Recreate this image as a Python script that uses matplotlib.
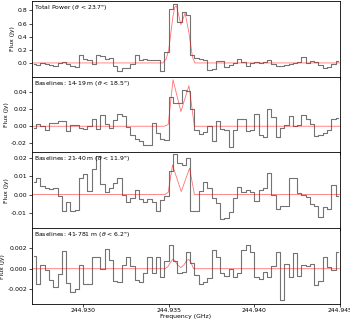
import matplotlib
matplotlib.use("Agg")
import matplotlib.pyplot as plt
import numpy as np

plt.rcParams['font.size'] = 4.4
plt.rcParams['axes.linewidth'] = 0.6
plt.rcParams['xtick.major.size'] = 2
plt.rcParams['ytick.major.size'] = 2
plt.rcParams['xtick.major.width'] = 0.5
plt.rcParams['ytick.major.width'] = 0.5
plt.rcParams['xtick.major.pad'] = 1.2
plt.rcParams['ytick.major.pad'] = 1.5

# channel grid (GHz)
f_start = 244.927
chan_width = 0.00025
n_chan = 72
freq = f_start + chan_width * (np.arange(n_chan) + 0.5)

titles = [r'Total Power ($\theta$ < 23.7")',
          r'Baselines: 14-19 m ($\theta$ < 18.5")',
          r'Baselines: 21-40 m ($\theta$ < 11.9")',
          r'Baselines: 41-781 m ($\theta$ < 6.2")']

flux_tp = [-0.015, -0.025, -0.005, -0.02, -0.03, -0.04, 0.0, 0.01, -0.015, -0.05,
           -0.06, 0.12, 0.06, 0.05, -0.015, 0.12, 0.1, 0.06, 0.07, -0.04,
           -0.125, -0.08, -0.08, -0.015, 0.12, 0.05, 0.06, 0.05, 0.05, 0.04,
           -0.12, 0.17, 0.82, 0.9, 0.62, 0.77, 0.73, 0.12, 0.08, 0.06,
           0.05, -0.1, -0.09, 0.03, 0.03, -0.065, -0.03, 0.0, 0.06, 0.01,
           -0.04, 0.0, 0.02, 0.0, 0.01, 0.045, -0.01, -0.05, -0.04, -0.03,
           -0.015, 0.0, 0.02, 0.085, 0.0, 0.035, 0.01, -0.03, -0.07, -0.065,
           -0.01, 0.035]

flux_14_19 = [-0.002, 0.003, 0.0, -0.005, 0.004, 0.004, 0.006, 0.006, -0.006, 0.001,
              0.001, -0.002, -0.003, 0.0, 0.008, -0.003, 0.013, 0.003, -0.002, 0.007,
              0.015, 0.012, -0.001, -0.01, -0.015, -0.018, -0.022, -0.022, 0.004, -0.008,
              -0.015, -0.016, 0.034, 0.028, 0.028, 0.043, 0.042, 0.02, -0.005, -0.009,
              -0.007, 0.0, -0.018, 0.006, -0.003, -0.004, -0.024, -0.005, 0.009, 0.009,
              -0.006, -0.005, 0.014, -0.01, -0.013, 0.02, 0.011, -0.013, -0.002, 0.001,
              0.012, 0.0, 0.001, 0.013, 0.008, 0.003, -0.012, -0.01, -0.008, -0.004,
              0.008, 0.01]

flux_21_40 = [0.0068, 0.009, 0.0046, 0.0035, 0.003, 0.0035, -0.001, -0.0088, -0.004, -0.0088,
              -0.0082, 0.009, 0.011, 0.002, 0.0137, 0.021, 0.0059, 0.0016, 0.0035, 0.006,
              0.009, -0.0005, -0.004, -0.002, 0.0027, -0.0024, -0.004, -0.0027, -0.0042, -0.009,
              -0.003, -0.001, 0.013, 0.0218, 0.017, 0.016, 0.02, -0.0088, -0.0088, 0.002,
              0.0068, 0.0035, -0.002, -0.0046, -0.0134, -0.0125, -0.0097, -0.002, 0.004, 0.0013,
              0.0027, 0.0013, -0.0033, 0.0027, 0.0035, 0.0114, -0.0005, -0.0079, -0.0064, -0.006,
              0.009, 0.009, 0.001, -0.0002, -0.0015, -0.005, -0.006, -0.012, -0.007, -0.0079,
              0.0053, -0.001]

flux_41_781 = [0.00124, -0.00146, 0.00035, -0.00013, -0.00108, -0.0018, -0.0005, 0.0017, -0.0014, -0.0022,
               -0.002, 0.00035, -0.00146, -0.0015, 0.0011, 0.00114, 0.0, 0.0019, 0.0008, -0.0012,
               -0.0013, 0.00035, 0.0011, 0.00025, -0.0011, -0.0013, -0.00044, 0.00114, -0.00044, 0.00114,
               -0.00076, 0.00076, 0.00225, 0.00076, -0.00044, -0.0003, 0.0016, 0.00057, -0.0006, -0.00146,
               -0.0013, -0.0009, 0.0018, 0.00114, -0.00044, -0.0007, 0.0, -0.0008, -0.00044, 0.0018,
               0.00225, 0.0016, -0.0008, -0.001, -0.0003, -0.00076, 0.00025, 0.0016, -0.003, 0.0005,
               -0.00076, 0.0015, -0.0007, 0.00035, 0.00025, 0.0005, -0.00155, -0.0012, 0.00114, 0.0002,
               -0.00013, 0.0016]

# line model
model_f_tp = [244.927, 244.93465, 244.93485, 244.93500, 244.93512, 244.93524, 244.93535,
              244.93545, 244.93571, 244.93596, 244.93618, 244.93639, 244.93653, 244.945]
model_tp = [0.0, 0.0, 0.06, 0.2, 0.45, 0.7, 0.85, 0.87, 0.585, 0.76, 0.46, 0.085, 0.0, 0.0]

model_f_14_19 = [244.927, 244.93475, 244.93497, 244.93525, 244.93571, 244.93618, 244.93650, 244.945]
model_14_19 = [0.0, 0.0, 0.002, 0.055, 0.0173, 0.048, 0.0, 0.0]

model_f_21_40 = [244.927, 244.93478, 244.93497, 244.93522, 244.93573, 244.93622, 244.93650, 244.945]
model_21_40 = [0.0, 0.0, 0.0012, 0.016, 0.0016, 0.0143, 0.0, 0.0]

model_f_41_781 = [244.927, 244.93478, 244.93495, 244.93510, 244.93522, 244.93535, 244.93550,
                  244.93571, 244.93590, 244.93605, 244.93618, 244.93630, 244.93645, 244.945]
model_41_781 = [0.0, 0.0, 0.0002, 0.0006, 0.0009, 0.0008, 0.0004, 0.0001, 0.0004, 0.0008,
                0.0009, 0.0006, 0.0, 0.0]

fluxes = [flux_tp, flux_14_19, flux_21_40, flux_41_781]
model_f = [model_f_tp, model_f_14_19, model_f_21_40, model_f_41_781]
models = [model_tp, model_14_19, model_21_40, model_41_781]
ylims = [(-0.21, 0.945), (-0.031, 0.0585), (-0.0183, 0.0228), (-0.0034, 0.0039)]
yticks = [[0.0, 0.2, 0.4, 0.6, 0.8], [-0.02, 0.0, 0.02, 0.04],
          [-0.01, 0.0, 0.01, 0.02], [-0.002, 0.0, 0.002]]
yfmt = ['%.1f', '%.2f', '%.2f', '%.3f']

fig, axes = plt.subplots(4, 1, sharex=True, figsize=(3.5, 3.21), dpi=100)
fig.subplots_adjust(left=0.091, right=0.971, top=0.997, bottom=0.053, hspace=0)

for i, ax in enumerate(axes):
    ax.step(freq, fluxes[i], where='mid', color='k', alpha=0.55, lw=0.8)
    ax.plot(model_f[i], models[i], color='r', alpha=0.55, lw=0.6)
    ax.set_ylim(*ylims[i])
    ax.set_yticks(yticks[i])
    ax.yaxis.set_major_formatter(matplotlib.ticker.FormatStrFormatter(yfmt[i]))
    ax.set_ylabel('Flux (Jy)', labelpad=1.5)
    ax.text(0.007, 0.975, titles[i], transform=ax.transAxes, va='top', ha='left')
    ax.ticklabel_format(axis='x', useOffset=False)

axes[-1].set_xlim(244.927, 244.945)
axes[-1].set_xticks([244.930, 244.935, 244.940, 244.945])
axes[-1].xaxis.set_major_formatter(matplotlib.ticker.FormatStrFormatter('%.3f'))
axes[-1].set_xlabel('Frequency (GHz)', labelpad=0.5)

fig.savefig('out.png', dpi=100)
